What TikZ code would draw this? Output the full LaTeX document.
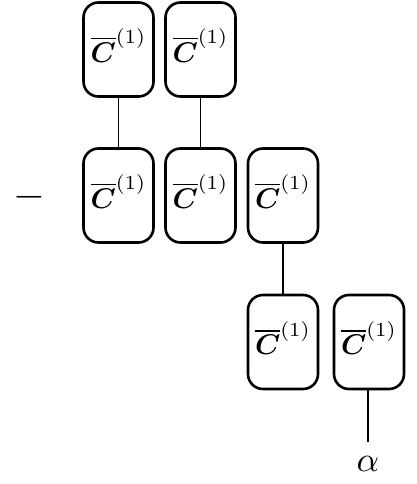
\documentclass[tikz,border=0pt]{standalone}
\usepackage{amsmath}
\usepackage{bm}
\begin{document}
\begin{tikzpicture}[x=1pt,y=-1pt,
  cbox/.style={draw,line width=2.6pt,rounded corners=15pt,minimum width=70pt,minimum height=94pt,inner sep=0pt,
    label={[inner sep=0pt,yshift=4pt]center:\cb}},
  big/.style={inner sep=0pt},
  wire/.style={line width=1.2pt}]
\useasboundingbox (0,0) rectangle (417,484);
\newcommand{\cb}{\scalebox{2.85}{$\overline{\bm{C}}^{(1)}$}}
\node[cbox] (a1) at (118.5,49.5) {};
\node[cbox] (a2) at (200.5,49.5) {};
\node[cbox] (b1) at (118.5,195.5) {};
\node[cbox] (b2) at (200.5,195.5) {};
\node[cbox] (b3) at (283,195.5) {};
\node[cbox] (c1) at (283,342) {};
\node[cbox] (c2) at (369,342) {};
\node[big] (m) at (29,197) {\scalebox{4.1}{$-$}};
\node[big] (al) at (368,463.5) {\scalebox{3.5}{$\alpha$}};
\coordinate (e) at (368,442);
\draw[wire] (a1) -- (b1);
\draw[wire] (a2) -- (b2);
\draw[wire] (b3) -- (c1);
\draw[wire] (c2.south -| e) -- (e);
\end{tikzpicture}
\end{document}
